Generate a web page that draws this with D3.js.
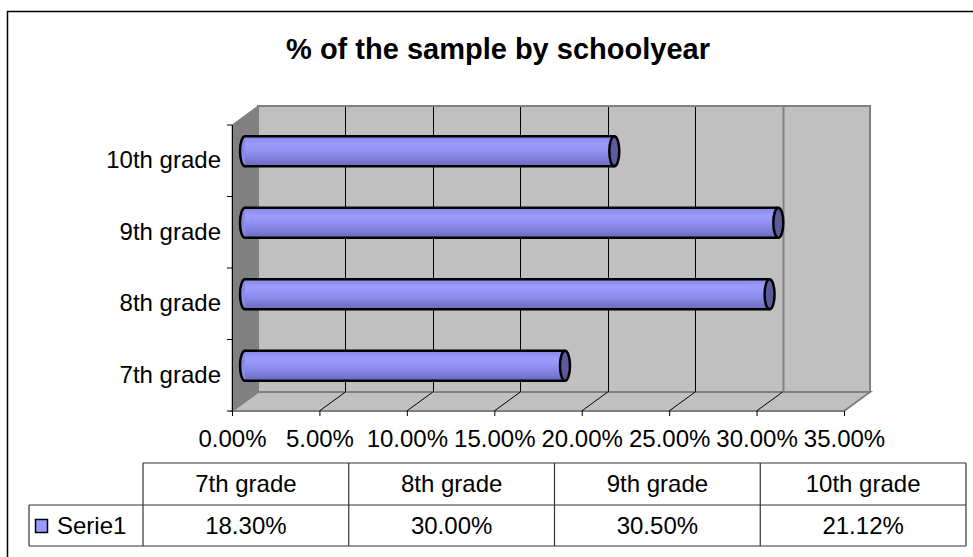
<!DOCTYPE html>
<html>
<head>
<meta charset="utf-8">
<script src="https://cdn.jsdelivr.net/npm/d3@7"></script>
<style>
  body { margin: 0; background: #fff; }
  svg { display: block; font-family: "Liberation Sans", Arial, sans-serif; }
</style>
</head>
<body>
<script>
const categories = ["7th grade", "8th grade", "9th grade", "10th grade"]
const values = [18.30, 30.00, 30.50, 21.12]
const valueLabels = ["18.30%", "30.00%", "30.50%", "21.12%"]
const ticks = [0, 5, 10, 15, 20, 25, 30, 35]
const seriesName = "Serie1"
const title = "% of the sample by schoolyear"

const width = 973, height = 557
const depthX = 26, depthY = -19   // 3d offset of back wall

const svg = d3.select("body").append("svg")
  .attr("width", width)
  .attr("height", height)

// outer chart border
svg.append("rect")
  .attr("x", 7.5).attr("y", 11.5)
  .attr("width", 1000).attr("height", 600)
  .attr("fill", "#fff").attr("stroke", "#000").attr("stroke-width", 1.5)

svg.append("text")
  .attr("x", 498).attr("y", 59)
  .attr("text-anchor", "middle")
  .attr("font-size", 29).attr("font-weight", "bold")
  .text(title)

const x = d3.scaleLinear().domain([0, 35]).range([232, 844])
const y = d3.scaleBand().domain(categories.slice().reverse()).range([125, 411])

const x0 = x(0), x1 = x(35), yTop = y.range()[0], yBot = y.range()[1]

const defs = svg.append("defs")
const grad = defs.append("linearGradient")
  .attr("id", "cyl").attr("x1", 0).attr("y1", 0).attr("x2", 0).attr("y2", 1)
grad.selectAll("stop")
  .data([[0, "#8585e8"], [0.25, "#9c9cff"], [0.45, "#9595f8"], [0.7, "#8282e0"], [1, "#6a6ac0"]])
  .enter().append("stop")
    .attr("offset", d => d[0]).attr("stop-color", d => d[1])

const gWalls = svg.append("g")

// back wall
gWalls.append("rect")
  .attr("x", x0 + depthX).attr("y", yTop + depthY)
  .attr("width", x1 - x0).attr("height", yBot - yTop)
  .attr("fill", "#c0c0c0").attr("stroke", "#808080").attr("stroke-width", 2)

// left wall
gWalls.append("polygon")
  .attr("points", [[x0, yTop], [x0 + depthX, yTop + depthY], [x0 + depthX, yBot + depthY], [x0, yBot]].join(" "))
  .attr("fill", "#808080").attr("stroke", "#808080")

// floor
gWalls.append("polygon")
  .attr("points", [[x0, yBot], [x0 + depthX, yBot + depthY], [x1 + depthX, yBot + depthY], [x1, yBot]].join(" "))
  .attr("fill", "#c0c0c0").attr("stroke", "#808080").attr("stroke-width", 2)

// gridlines on back wall and floor
const gGrid = svg.append("g").attr("stroke", "#000").attr("stroke-width", 1)
gGrid.selectAll("line.wall")
  .data(ticks.slice(1, -1))
  .enter().append("line")
    .attr("class", "wall")
    .attr("x1", d => Math.round(x(d) + depthX) + 0.5)
    .attr("x2", d => Math.round(x(d) + depthX) + 0.5)
    .attr("y1", yTop + depthY + 1)
    .attr("y2", yBot + depthY)
    .attr("stroke", d => d === 30 ? "#808080" : "#000")
    .attr("stroke-width", d => d === 30 ? 2 : 1)
gGrid.selectAll("line.floor")
  .data(ticks.slice(1, -1))
  .enter().append("line")
    .attr("class", "floor")
    .attr("x1", d => x(d)).attr("y1", yBot)
    .attr("x2", d => x(d) + depthX).attr("y2", yBot + depthY)

// axes
const xAxis = d3.axisBottom(x).tickValues(ticks).tickSize(5)
  .tickFormat(d => d.toFixed(2) + "%")
const gx = svg.append("g").attr("transform", `translate(0,${yBot})`).call(xAxis)
gx.select(".domain").remove()
gx.selectAll("line").attr("stroke", "#000")
gx.selectAll("text")
  .attr("font-family", "Liberation Sans, Arial, sans-serif")
  .attr("font-size", 24).attr("fill", "#000")
  .attr("y", 19).attr("dy", "0.71em")

const yAxis = d3.axisLeft(y).tickSize(0).tickPadding(11)
const gy = svg.append("g").attr("transform", `translate(${x0},0)`).call(yAxis)
gy.select(".domain").attr("stroke", "#000").attr("d", `M0.5,${yTop}V${yBot}`)
gy.selectAll("text")
  .attr("font-family", "Liberation Sans, Arial, sans-serif")
  .attr("font-size", 24).attr("fill", "#000")
gy.selectAll(".bnd")
  .data([yTop, ...categories.map(c => y(c) + y.bandwidth())])
  .enter().append("line")
    .attr("class", "bnd")
    .attr("x1", -5).attr("x2", 0)
    .attr("y1", d => d).attr("y2", d => d)
    .attr("stroke", "#000")

// cylinders
const barH = 30, rx = 5
const offX = depthX / 2, offY = depthY / 2
const bars = svg.append("g").selectAll("g")
  .data(categories.map((c, i) => ({ c, v: values[i] })))
  .enter().append("g")
    .attr("transform", d => `translate(${offX},${y(d.c) + y.bandwidth() / 2 + offY})`)

bars.append("ellipse")
  .attr("cx", x(0)).attr("cy", 0).attr("rx", rx).attr("ry", barH / 2)
  .attr("fill", "#8a8ae8").attr("stroke", "#000").attr("stroke-width", 2.5)
bars.append("path")
  .attr("d", d => `M${x(0)},${-barH / 2}H${x(d.v)}V${barH / 2}H${x(0)}Z`)
  .attr("fill", "url(#cyl)")
bars.append("path")
  .attr("d", d => `M${x(0)},${-barH / 2}H${x(d.v)}M${x(0)},${barH / 2}H${x(d.v)}`)
  .attr("stroke", "#000").attr("stroke-width", 2.5).attr("fill", "none")
bars.append("ellipse")
  .attr("cx", d => x(d.v)).attr("cy", 0).attr("rx", rx).attr("ry", barH / 2)
  .attr("fill", "#5c5c9c").attr("stroke", "#000").attr("stroke-width", 2.5)

// data table
const tx = d3.scaleBand().domain(categories).range([143, 966])
const rowTop = 463, rowMid = 505, rowBot = 546
const gt = svg.append("g").attr("stroke", "#333").attr("stroke-width", 1.2)
gt.append("line").attr("x1", 143).attr("x2", 966).attr("y1", rowTop).attr("y2", rowTop)
gt.append("line").attr("x1", 29).attr("x2", 966).attr("y1", rowMid).attr("y2", rowMid)
gt.append("line").attr("x1", 29).attr("x2", 966).attr("y1", rowBot).attr("y2", rowBot)
gt.append("line").attr("x1", 29).attr("x2", 29).attr("y1", rowMid).attr("y2", rowBot)
gt.selectAll("line.col")
  .data([143, ...categories.map(c => tx(c) + tx.bandwidth())])
  .enter().append("line")
    .attr("class", "col")
    .attr("x1", d => d).attr("x2", d => d)
    .attr("y1", rowTop).attr("y2", rowBot)

const gtt = svg.append("g").attr("font-size", 24).attr("text-anchor", "middle")
gtt.selectAll("text.h")
  .data(categories).enter().append("text")
    .attr("x", d => tx(d) + tx.bandwidth() / 2)
    .attr("y", (rowTop + rowMid) / 2).attr("dy", "0.35em")
    .text(d => d)
gtt.selectAll("text.v")
  .data(valueLabels).enter().append("text")
    .attr("x", (d, i) => tx(categories[i]) + tx.bandwidth() / 2)
    .attr("y", (rowMid + rowBot) / 2).attr("dy", "0.35em")
    .text(d => d)

svg.append("rect")
  .attr("x", 35.5).attr("y", 519.5).attr("width", 12).attr("height", 13)
  .attr("fill", "#9999ff").attr("stroke", "#000").attr("stroke-width", 1.5)
svg.append("text")
  .attr("x", 57).attr("y", (rowMid + rowBot) / 2).attr("dy", "0.35em")
  .attr("font-size", 24)
  .text(seriesName)
</script>
</body>
</html>
